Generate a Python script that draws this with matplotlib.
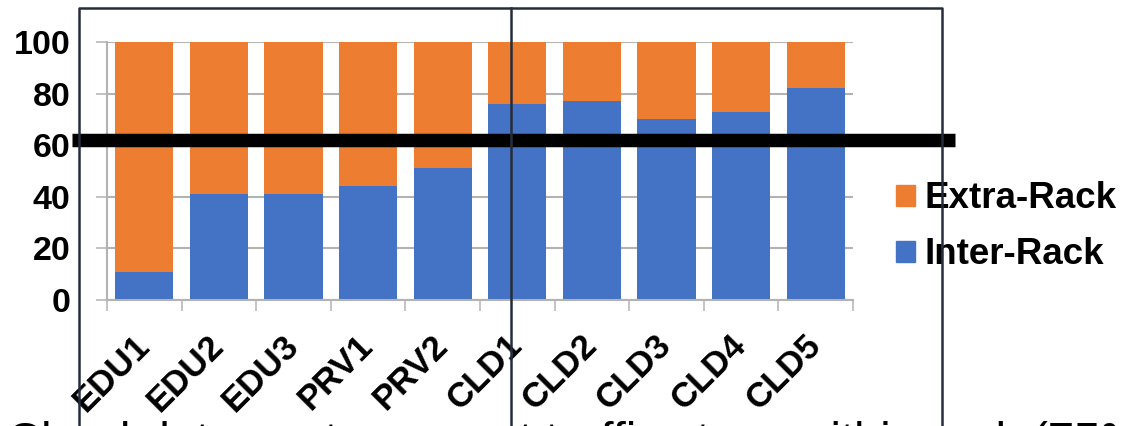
import numpy as np
import matplotlib.pyplot as plt
from matplotlib.lines import Line2D
from matplotlib.patches import Patch

plt.rcParams['font.family'] = ['Liberation Sans', 'DejaVu Sans']

# share of traffic per data center (%)
sites = ['EDU1', 'EDU2', 'EDU3', 'PRV1', 'PRV2',
         'CLD1', 'CLD2', 'CLD3', 'CLD4', 'CLD5']
inter_rack = [11, 41, 41, 44, 51, 76, 77, 70, 73, 82]
extra_rack = [100 - v for v in inter_rack]
threshold = 62
yticks = [0, 20, 40, 60, 80, 100]
caption = 'Cloud data centers: most traffic stays within rack (75%)'

BLUE = '#4472C4'
ORANGE = '#ED7D31'
GRID = '#b3b3b3'
FRAME = '#262d3a'

fig = plt.figure(figsize=(11.24, 4.26), dpi=100)
ax = fig.add_axes([107 / 1124, 126 / 426, 746 / 1124, 258 / 426])

x = np.arange(len(sites))
ax.bar(x, inter_rack, width=0.78, color=BLUE, label='Inter-Rack', zorder=2)
ax.bar(x, extra_rack, width=0.78, bottom=inter_rack, color=ORANGE,
       label='Extra-Rack', zorder=2)

ax.set_xlim(-0.5, len(sites) - 0.5)
ax.set_ylim(0, 100)
ax.set_axisbelow(True)
ax.yaxis.grid(True, color=GRID, lw=1.5)

for side in ['top', 'right']:
    ax.spines[side].set_visible(False)
for side in ['left', 'bottom']:
    ax.spines[side].set_color(GRID)
    ax.spines[side].set_linewidth(1.5)

ax.set_yticks(yticks)
ax.set_yticklabels([str(t) for t in yticks], fontsize=24.5, fontweight='bold')
ax.tick_params(axis='y', direction='out', length=8, width=1.1, color=GRID,
               pad=18.5)

# labels sit at bar centres, tick marks at category borders
ax.set_xticks(x)
ax.set_xticklabels(sites, fontsize=25, fontweight='bold', rotation=45,
                   ha='right', va='center', rotation_mode='anchor')
ax.set_xticks(np.arange(len(sites) + 1) - 0.5, minor=True)
ax.tick_params(axis='x', which='major', length=0, pad=29)
ax.tick_params(axis='x', which='minor', direction='out', length=8, width=1.1,
               color=GRID)

# thick reference bar across the chart
ax.axhline(threshold, xmin=-0.047, xmax=1.137, color='black', lw=9.7,
           solid_capstyle='butt', clip_on=False, zorder=4)

handles = [Patch(color=ORANGE), Patch(color=BLUE)]
ax.legend(handles, ['Extra-Rack', 'Inter-Rack'], loc='upper left',
          bbox_to_anchor=(896 / 1124, 0.574), bbox_transform=fig.transFigure,
          frameon=False, prop={'weight': 'bold', 'size': 26.5},
          handlelength=0.52, handleheight=0.52, handletextpad=0.25,
          labelspacing=0.57, borderpad=0, borderaxespad=0)

# slide frame and divider
fx = lambda px: px / 1124
fy = lambda py: 1 - py / 426
for xs, ys in [([79, 79, 942, 942], [426, 8, 8, 426]),
               ([511, 511], [8, 426])]:
    fig.add_artist(Line2D([fx(v) for v in xs], [fy(v) for v in ys],
                          color=FRAME, lw=1.8, zorder=10))

fig.text(fx(7), fy(455), caption, fontsize=34, va='baseline', ha='left')

fig.savefig('out.png', dpi=100)
